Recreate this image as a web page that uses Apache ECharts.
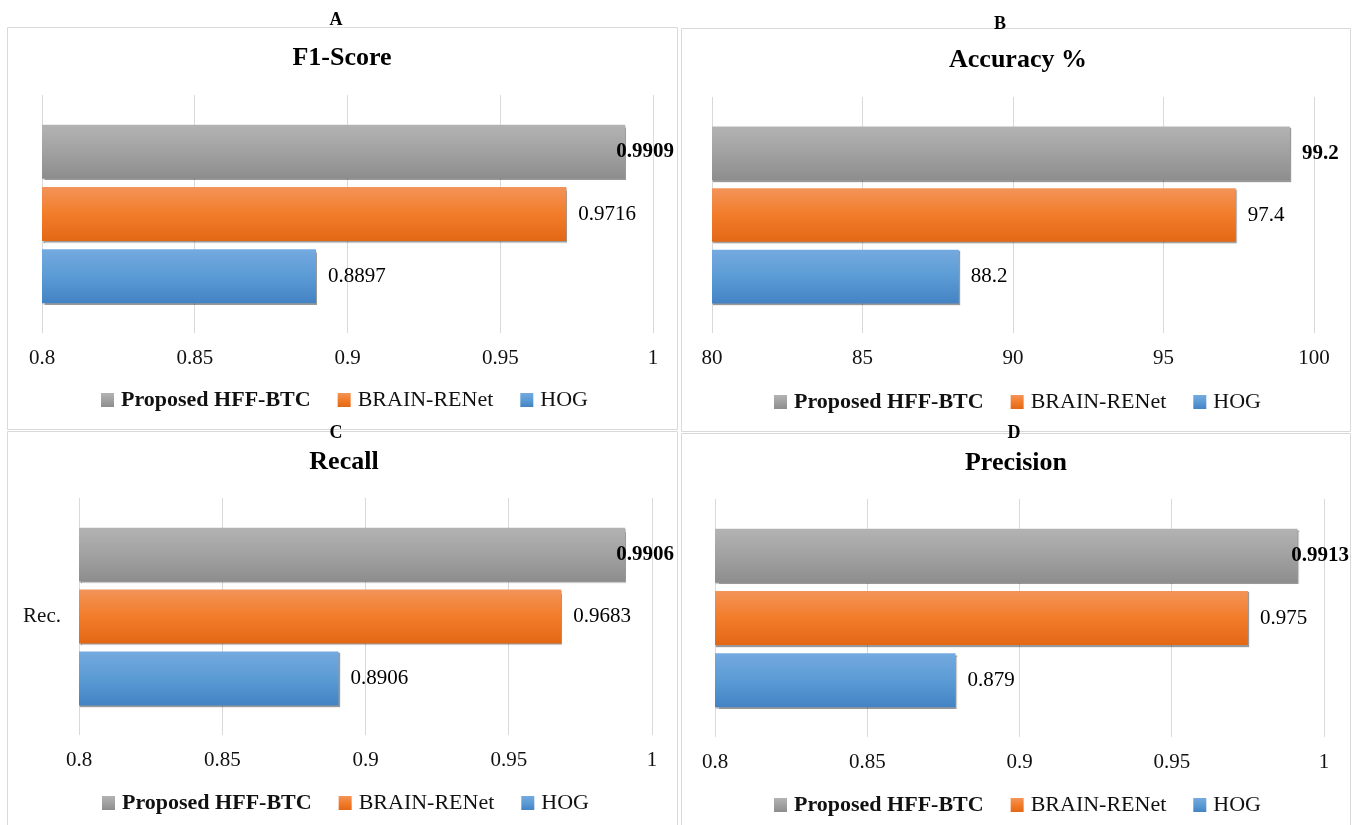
<!DOCTYPE html>
<html>
<head>
<meta charset="utf-8">
<script src="https://cdn.jsdelivr.net/npm/echarts@6/dist/echarts.min.js"></script>
<style>
  html, body { margin: 0; padding: 0; background: #ffffff; }
  #chart { width: 1358px; height: 825px; }
</style>
</head>
<body>
<div id="chart"></div>
<script>
// Methods compared in every panel (legend order, drawn top to bottom)
const seriesNames = ['Proposed HFF-BTC', 'BRAIN-RENet', 'HOG'];

// Panel captions
const panelLetters = ['A', 'B', 'C', 'D'];
const panelTitles = ['F1-Score', 'Accuracy %', 'Recall', 'Precision'];
const categoryLabels = ['', '', 'Rec.', ''];

// Metric values, one per method
const f1Score = [0.9909, 0.9716, 0.8897];
const accuracy = [99.2, 97.4, 88.2];
const recall = [0.9906, 0.9683, 0.8906];
const precision = [0.9913, 0.975, 0.879];

// Value-axis ticks
const ratioTicks = [0.8, 0.85, 0.9, 0.95, 1];
const percentTicks = [80, 85, 90, 95, 100];

const panelValues = [f1Score, accuracy, recall, precision];
const panelTicks = [ratioTicks, percentTicks, ratioTicks, ratioTicks];

const FONT = "'Liberation Serif', 'Times New Roman', serif";
const TEXT = '#111111';

// Panel geometry (pixels)
const layout = [
  { box: [7, 27, 677, 429],     letter: [336, 20],  title: [342, 58],  grid: { left: 42,  width: 611, top: 95,  height: 238 }, legend: [101, 400], labelMax: 674 },
  { box: [681, 28, 1350, 431],  letter: [1000, 24], title: [1018, 60], grid: { left: 712, width: 602, top: 97,  height: 236 }, legend: [774, 402], labelMax: 1347 },
  { box: [7, 431, 677, 830],    letter: [336, 433], title: [344, 462], grid: { left: 79,  width: 573, top: 498, height: 237 }, legend: [102, 803], labelMax: 674 },
  { box: [681, 433, 1350, 830], letter: [1014, 433], title: [1016, 463], grid: { left: 715, width: 609, top: 499, height: 238 }, legend: [774, 805], labelMax: 1349 }
];

function vGrad(stops) {
  return new echarts.graphic.LinearGradient(0, 0, 0, 1,
    stops.map((c, i) => ({ offset: i / (stops.length - 1), color: c })));
}
const fills = [
  ['#b3b3b3', '#a1a1a1', '#8d8d8d'],
  ['#f39459', '#f27c2a', '#e36815'],
  ['#74aadf', '#5b9bd5', '#4383c4']
];

// Tick step rounded so the ticks land exactly on the listed values
function stepOf(ticks) {
  return Math.round((ticks[1] - ticks[0]) * 1e6) / 1e6;
}
function tickText(v) {
  return String(Math.round(v * 1e6) / 1e6);
}

const titles = [];
const grids = [];
const xAxes = [];
const yAxes = [];
const legends = [];
const series = [];
const graphics = [];

layout.forEach((L, p) => {
  const [x0, y0, x1, y1] = L.box;
  graphics.push({
    type: 'rect', silent: true, z: -1,
    shape: { x: x0 + 0.5, y: y0 + 0.5, width: x1 - x0, height: y1 - y0 },
    style: { fill: 'transparent', stroke: '#d9d9d9', lineWidth: 1 }
  });

  titles.push({
    text: panelLetters[p], left: L.letter[0], top: L.letter[1] - 9, textAlign: 'center', padding: 0,
    textStyle: { fontFamily: FONT, fontSize: 18, lineHeight: 18, fontWeight: 'bold', color: '#000' }
  });
  titles.push({
    text: panelTitles[p], left: L.title[0], top: L.title[1] - 13, textAlign: 'center', padding: 0,
    textStyle: { fontFamily: FONT, fontSize: 26, lineHeight: 26, fontWeight: 'bold', color: '#000' }
  });

  grids.push({ left: L.grid.left, width: L.grid.width, top: L.grid.top, height: L.grid.height, containLabel: false });

  const ticks = panelTicks[p];
  xAxes.push({
    gridIndex: p, type: 'value',
    min: ticks[0], max: ticks[ticks.length - 1], interval: stepOf(ticks),
    axisLine: { show: false }, axisTick: { show: false },
    splitLine: { show: true, lineStyle: { color: '#d9d9d9', width: 1 } },
    axisLabel: { fontFamily: FONT, fontSize: 21, color: TEXT, margin: 15, formatter: tickText }
  });
  yAxes.push({
    gridIndex: p, type: 'category', data: [categoryLabels[p]],
    axisLine: { show: false }, axisTick: { show: false },
    axisLabel: { fontFamily: FONT, fontSize: 21, color: TEXT, margin: 18 }
  });

  legends.push({
    left: L.legend[0], top: L.legend[1] - 11, orient: 'horizontal', padding: 0,
    icon: 'rect', itemWidth: 13, itemHeight: 14, itemGap: 27, selectedMode: false,
    data: seriesNames.map((n, i) => ({ name: n, textStyle: { fontWeight: i === 0 ? 'bold' : 'normal' } })),
    textStyle: { fontFamily: FONT, fontSize: 22, lineHeight: 22, color: TEXT, padding: [0, 0, 0, 2] }
  });

  seriesNames.forEach((name, s) => {
    series.push({
      type: 'bar', name: name,
      xAxisIndex: p, yAxisIndex: p,
      data: [panelValues[p][s]],
      barGap: '15%', barCategoryGap: '25%',
      itemStyle: {
        color: vGrad(fills[s]),
        shadowColor: 'rgba(0,0,0,0.4)', shadowBlur: 1, shadowOffsetX: 1, shadowOffsetY: 1.5
      },
      label: {
        show: true, position: 'right', distance: 12,
        fontFamily: FONT, fontSize: 21, color: '#000',
        fontWeight: s === 0 ? 'bold' : 'normal'
      },
      // keep value labels inside the panel frame
      labelLayout: function (params) {
        const r = params.labelRect;
        if (r.x + r.width > L.labelMax) {
          return {
            x: L.labelMax - r.width,
            y: r.y + r.height / 2,
            align: 'left',
            verticalAlign: 'middle'
          };
        }
        return {};
      }
    });
  });
});

const chart = echarts.init(document.getElementById('chart'), null, { renderer: 'canvas' });
chart.setOption({
  backgroundColor: '#ffffff',
  animation: false,
  title: titles,
  grid: grids,
  xAxis: xAxes,
  yAxis: yAxes,
  legend: legends,
  series: series,
  graphic: graphics
});
</script>
</body>
</html>
